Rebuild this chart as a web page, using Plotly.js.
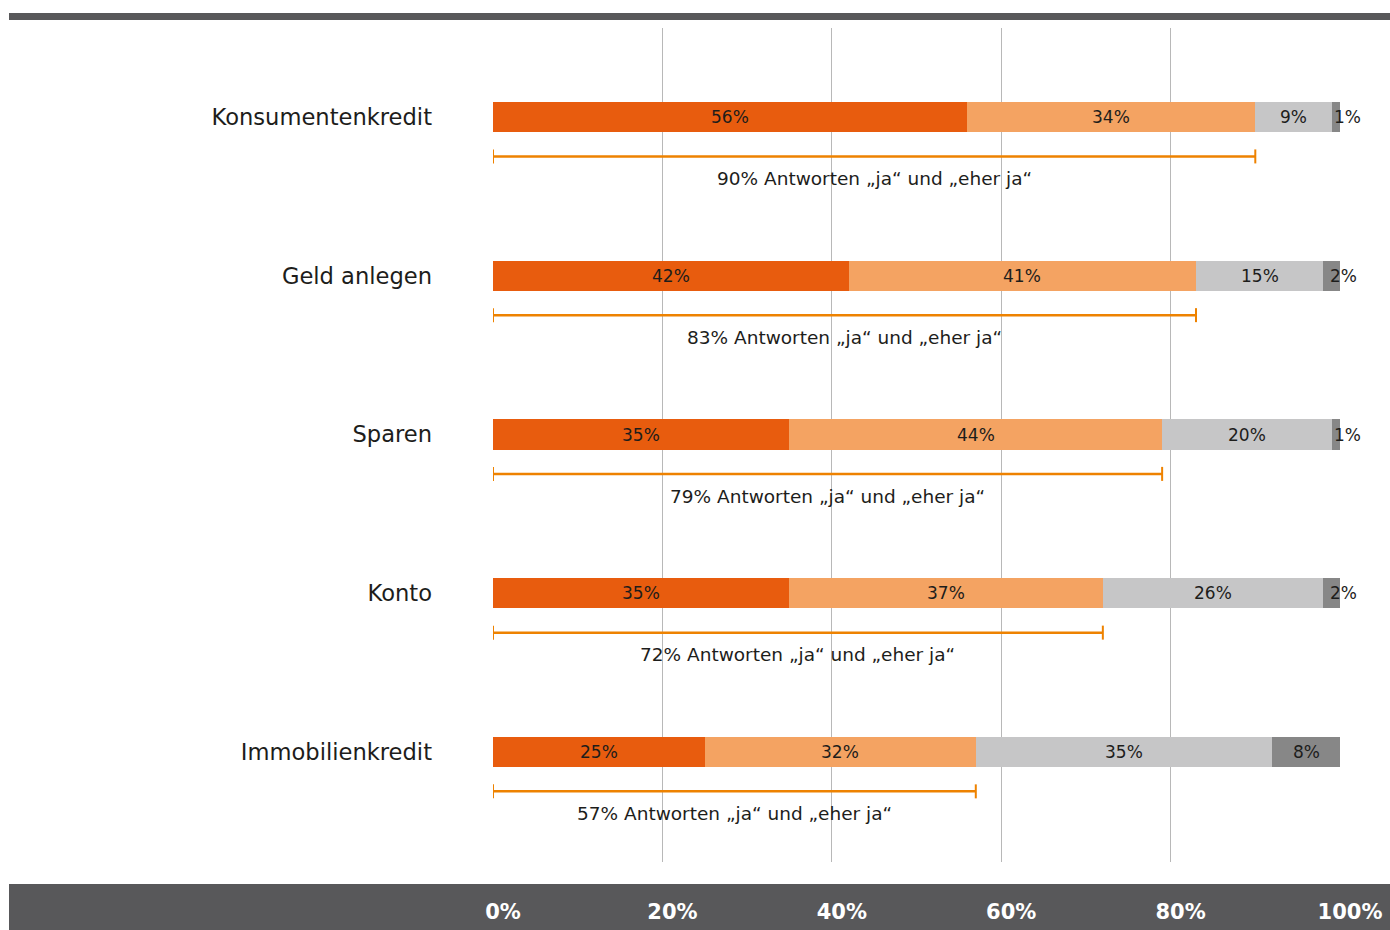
<!DOCTYPE html>
<html>
<head>
<meta charset="utf-8">
<script src="https://cdn.plot.ly/plotly-3.0.1.min.js"></script>
<style>
  html, body { margin: 0; padding: 0; background: #ffffff; }
  #chart { width: 1390px; height: 930px; }
</style>
</head>
<body>
<div id="chart"></div>
<script>
// Survey answers per product, shares in percent
const categories = ['Konsumentenkredit', 'Geld anlegen', 'Sparen', 'Konto', 'Immobilienkredit'];
const seriesNames = ['ja', 'eher ja', 'eher nein', 'nein'];
const ja       = [56, 42, 35, 35, 25];
const eherJa   = [34, 41, 44, 37, 32];
const eherNein = [9, 15, 20, 26, 35];
const nein     = [1, 2, 1, 2, 8];
const tickValues = [0, 20, 40, 60, 80, 100];
const tickLabels = ['0%', '20%', '40%', '60%', '80%', '100%'];

const series = [ja, eherJa, eherNein, nein];
const colors = ['#E85C0E', '#F4A362', '#C6C6C7', '#878787'];
const bracketColor = '#EE8200';
const textColor = '#1D1D1B';
const bandColor = '#58585A';
const fontFamily = 'DejaVu Sans, Verdana, sans-serif';

const yPos = categories.map((_, i) => i);
const barWidth = 0.19;
const bracketOffset = 0.248;
const bracketTextOffset = 0.388;

const traces = series.map((vals, s) => ({
  type: 'bar',
  orientation: 'h',
  name: seriesNames[s],
  y: yPos,
  x: vals,
  width: barWidth,
  marker: { color: colors[s], line: { width: 0 } },
  hoverinfo: 'skip'
}));

const annotations = [];
categories.forEach((cat, i) => {
  let start = 0;
  series.forEach((vals) => {
    const v = vals[i];
    const mid = start + v / 2;
    const small = v < 5;
    annotations.push({
      x: mid, y: i, xref: 'x', yref: 'y',
      text: v + '%', showarrow: false,
      xanchor: small ? 'left' : 'center', yanchor: 'middle',
      xshift: small ? -4 : 0,
      font: { family: fontFamily, size: 17, color: textColor }
    });
    start += v;
  });
  const agree = ja[i] + eherJa[i];
  traces.push({
    type: 'scatter',
    mode: 'lines+markers',
    x: [0, agree],
    y: [i + bracketOffset, i + bracketOffset],
    line: { color: bracketColor, width: 2.5 },
    marker: { symbol: 'line-ns', size: 10, color: bracketColor, line: { color: bracketColor, width: 2 } },
    hoverinfo: 'skip',
    showlegend: false
  });
  annotations.push({
    x: agree / 2, y: i + bracketTextOffset, xref: 'x', yref: 'y',
    text: agree + '% Antworten \u201Eja\u201C und \u201Eeher ja\u201C', showarrow: false,
    xanchor: 'center', yanchor: 'middle',
    font: { family: fontFamily, size: 18.5, color: textColor }
  });
});

const xDomain = [493 / 1390, 1340 / 1390];
const yDomain = [(930 - 862) / 930, (930 - 28) / 930];

const layout = {
  width: 1390, height: 930,
  margin: { l: 0, r: 0, t: 0, b: 0 },
  paper_bgcolor: '#ffffff', plot_bgcolor: '#ffffff',
  barmode: 'stack',
  showlegend: false,
  xaxis: {
    domain: xDomain, range: [0, 100], fixedrange: true,
    tickvals: tickValues.slice(1), showticklabels: false,
    showgrid: true, gridcolor: '#B8B8B8', gridwidth: 1,
    zeroline: false, showline: false, ticks: ''
  },
  xaxis2: {
    overlaying: 'x', matches: 'x', anchor: 'y', side: 'bottom',
    tickvals: tickValues, ticktext: tickLabels,
    showgrid: false, zeroline: false, showline: false, ticks: '',
    ticklabelstandoff: 35, ticklabelshift: 10,
    tickfont: { family: fontFamily, size: 21, color: '#ffffff', weight: 700 }
  },
  yaxis: {
    domain: yDomain, range: [4.693, -0.561], fixedrange: true,
    tickvals: yPos, ticktext: categories,
    showgrid: false, zeroline: false, showline: false, ticks: '',
    ticklabelstandoff: 60,
    tickfont: { family: fontFamily, size: 22.6, color: textColor }
  },
  shapes: [
    { type: 'rect', xref: 'paper', yref: 'paper', x0: 9 / 1390, x1: 1, y0: (930 - 20) / 930, y1: (930 - 13) / 930,
      fillcolor: bandColor, line: { width: 0 }, layer: 'below' },
    { type: 'rect', xref: 'paper', yref: 'paper', x0: 9 / 1390, x1: 1, y0: 0, y1: (930 - 884) / 930,
      fillcolor: bandColor, line: { width: 0 }, layer: 'below' }
  ],
  annotations: annotations
};

// invisible trace so the labelled second x axis is drawn
traces.push({ type: 'scatter', x: [0, 100], y: [0, 0], xaxis: 'x2', yaxis: 'y', mode: 'markers',
  marker: { opacity: 0 }, hoverinfo: 'skip', showlegend: false });

Plotly.newPlot('chart', traces, layout, { displayModeBar: false, staticPlot: true });
</script>
</body>
</html>
